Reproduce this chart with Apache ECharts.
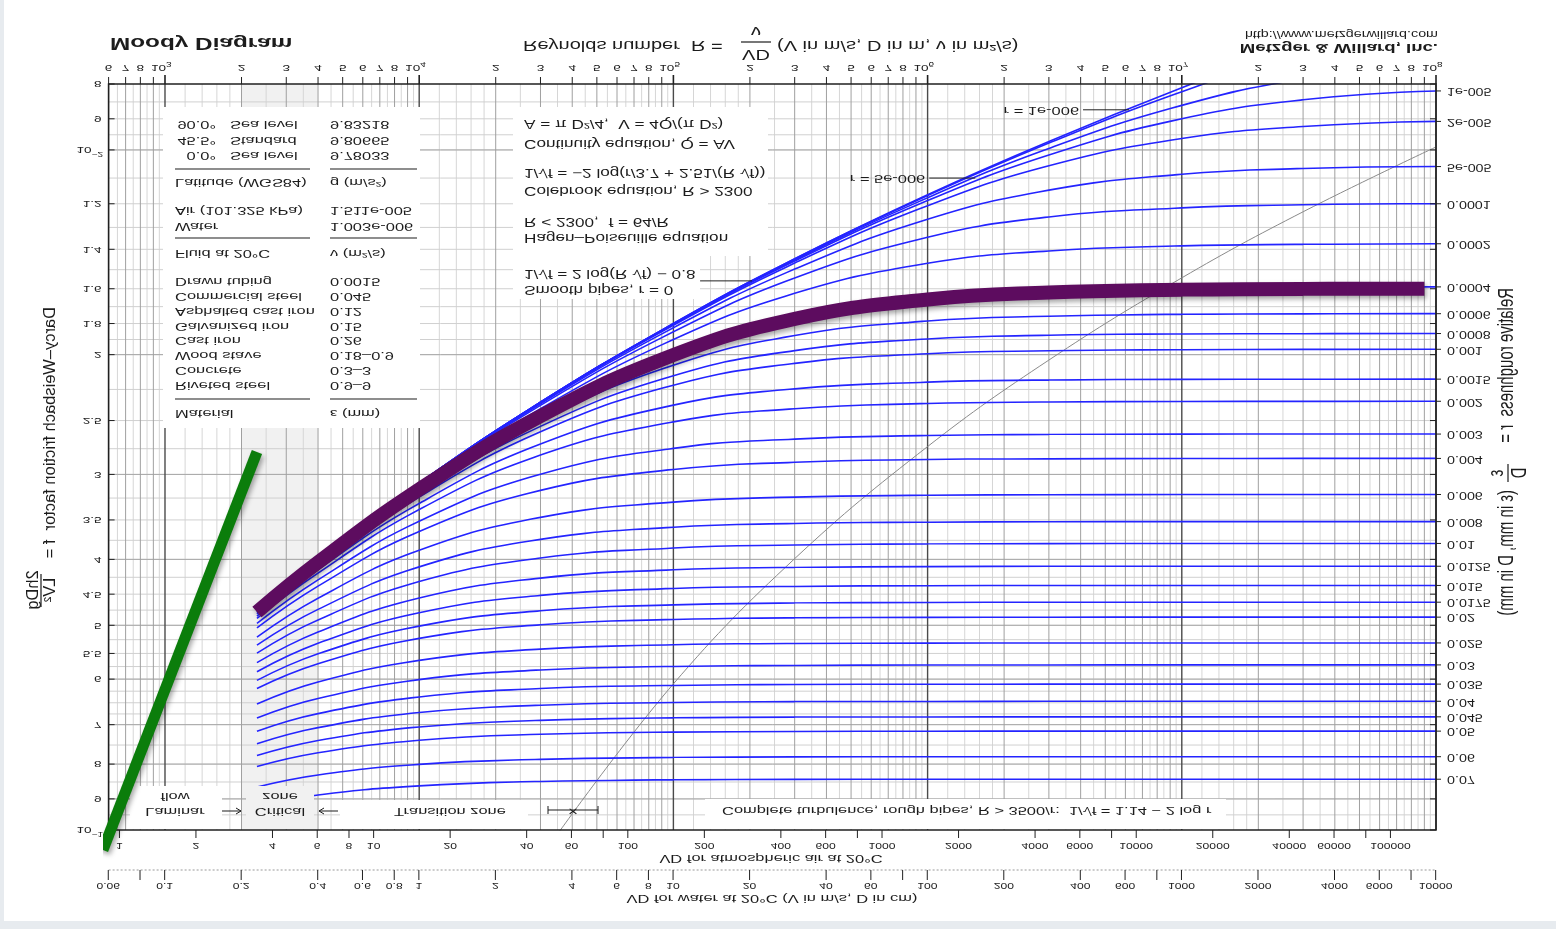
<!DOCTYPE html>
<html>
<head>
<meta charset="utf-8">
<title>Moody Diagram</title>
<script src="https://cdn.jsdelivr.net/npm/echarts@6/dist/echarts.min.js"></script>
<style>
  html, body { margin: 0; padding: 0; width: 1556px; height: 929px; overflow: hidden; background: #e7ebef; }
  #paper { position: absolute; left: 4px; top: 0; width: 1552px; height: 921px; background: #ffffff; }
  /* the whole drawing is mirrored top-to-bottom */
  #chart { position: absolute; left: 0; top: 0; width: 1556px; height: 929px; transform: scaleY(-1); }
</style>
</head>
<body>
<div id="paper"></div>
<div id="chart"></div>
<script>
// ---------------------------------------------------------------------------
// Data
// ---------------------------------------------------------------------------
// Reynolds numbers at which the friction factor of every curve is listed
const reynolds = [2300, 4000, 1e4, 3e4, 1e5, 3e5, 1e6, 3e6, 1e7, 3e7, 1e8];

// Darcy friction factor f for each relative roughness r
const fSmooth = [0.0473, 0.0399, 0.0309, 0.0235, 0.0180, 0.01446, 0.01164, 0.00972, 0.0081, 0.00695, 0.00594];
const fR1e6   = [0.0473, 0.0399, 0.0309, 0.0235, 0.0180, 0.01447, 0.01167, 0.00977, 0.00821, 0.00718, 0.0064];
const fR5e6   = [0.0473, 0.0399, 0.0309, 0.0235, 0.01802, 0.01452, 0.01176, 0.00995, 0.0086, 0.00786, 0.00747];
const fR1e5   = [0.0473, 0.0399, 0.0309, 0.0235, 0.01805, 0.01457, 0.01187, 0.01017, 0.0090, 0.00844, 0.00819];
const fR2e5   = [0.0473, 0.0399, 0.0309, 0.02354, 0.01811, 0.01467, 0.01208, 0.01055, 0.00962, 0.00924, 0.00908];
const fR5e5   = [0.0473, 0.0400, 0.0310, 0.02363, 0.01826, 0.01497, 0.01265, 0.01146, 0.01086, 0.01065, 0.01058];
const fR1e4   = [0.0474, 0.0400, 0.03107, 0.02375, 0.01851, 0.01543, 0.01344, 0.01255, 0.01217, 0.01204, 0.0120];
const fR2e4   = [0.04747, 0.04013, 0.03117, 0.02402, 0.0190, 0.01625, 0.01468, 0.01408, 0.01384, 0.01377, 0.01374];
const fR4e4   = [0.04759, 0.04029, 0.03147, 0.02453, 0.01992, 0.01762, 0.01649, 0.0161, 0.01596, 0.01591, 0.0159];
const fR6e4   = [0.0478, 0.04049, 0.03178, 0.02501, 0.02073, 0.01875, 0.01785, 0.01756, 0.01745, 0.01742, 0.01741];
const fR8e4   = [0.04792, 0.0407, 0.03208, 0.0255, 0.02148, 0.01973, 0.01897, 0.01873, 0.01865, 0.01863, 0.01862];
const fR001   = [0.0481, 0.0409, 0.03238, 0.02597, 0.02218, 0.0206, 0.01994, 0.01974, 0.01967, 0.01965, 0.01964];
const fR0015  = [0.04847, 0.04141, 0.0331, 0.02707, 0.02373, 0.02246, 0.02195, 0.0218, 0.02175, 0.02174, 0.02173];
const fR002   = [0.04886, 0.0419, 0.03379, 0.0281, 0.02511, 0.02402, 0.0236, 0.02348, 0.02344, 0.02343, 0.02342];
const fR003   = [0.04967, 0.04287, 0.03515, 0.02998, 0.02747, 0.02662, 0.0263, 0.02621, 0.02618, 0.02617, 0.02617];
const fR004   = [0.05043, 0.04379, 0.0364, 0.03167, 0.0295, 0.02879, 0.02853, 0.02846, 0.02843, 0.02842, 0.02842];
const fR006   = [0.05203, 0.04562, 0.03878, 0.0347, 0.03295, 0.0324, 0.0322, 0.03214, 0.03212, 0.03211, 0.03211];
const fR008   = [0.05348, 0.04738, 0.04103, 0.03738, 0.03588, 0.03543, 0.03527, 0.03522, 0.0352, 0.0352, 0.0352];
const fR01    = [0.05495, 0.0491, 0.04312, 0.03982, 0.0385, 0.0381, 0.03797, 0.03792, 0.03791, 0.0379, 0.0379];
const fR0125  = [0.05675, 0.05116, 0.0456, 0.04262, 0.04144, 0.04111, 0.04099, 0.04095, 0.04094, 0.04094, 0.04094];
const fR015   = [0.05851, 0.05314, 0.04792, 0.04519, 0.04415, 0.04384, 0.04373, 0.0437, 0.04369, 0.04369, 0.04369];
const fR0175  = [0.06025, 0.05507, 0.05014, 0.04761, 0.04667, 0.04638, 0.04628, 0.04625, 0.04624, 0.04624, 0.04624];
const fR02    = [0.06194, 0.05696, 0.05227, 0.04991, 0.04903, 0.04877, 0.04868, 0.04865, 0.04864, 0.04864, 0.04864];
const fR025   = [0.06527, 0.06058, 0.05631, 0.0542, 0.05341, 0.05319, 0.05312, 0.05309, 0.05308, 0.05308, 0.05308];
const fR03    = [0.06846, 0.06406, 0.0601, 0.05818, 0.05748, 0.05729, 0.0572, 0.05719, 0.05718, 0.05718, 0.05718];
const fR035   = [0.07161, 0.06743, 0.06374, 0.06194, 0.0613, 0.06111, 0.06105, 0.06103, 0.06102, 0.06102, 0.06102];
const fR04    = [0.07469, 0.0707, 0.06719, 0.06554, 0.06494, 0.06476, 0.06471, 0.06468, 0.06467, 0.06467, 0.06467];
const fR045   = [0.07771, 0.07388, 0.07055, 0.069, 0.06842, 0.06825, 0.0682, 0.06818, 0.06817, 0.06817, 0.06817];
const fR05    = [0.08066, 0.07699, 0.0738, 0.0723, 0.0718, 0.07164, 0.07157, 0.07156, 0.07155, 0.07155, 0.07155];
const fR06    = [0.08645, 0.083, 0.08007, 0.07872, 0.07824, 0.07808, 0.07803, 0.07802, 0.07802, 0.07802, 0.07802];
const fR07    = [0.0921, 0.08884, 0.08611, 0.08485, 0.0844, 0.08426, 0.08421, 0.0842, 0.0842, 0.0842, 0.0842];

const curveRows = [fSmooth, fR1e6, fR5e6, fR1e5, fR2e5, fR5e5, fR1e4, fR2e4, fR4e4, fR6e4, fR8e4,
  fR001, fR0015, fR002, fR003, fR004, fR006, fR008, fR01, fR0125, fR015, fR0175, fR02, fR025,
  fR03, fR035, fR04, fR045, fR05, fR06, fR07];
// relative roughness printed at the right end of each curve
const curveLabels = ['', '', '', '1e-005', '2e-005', '5e-005', '0.0001', '0.0002', '0.0004', '0.0006',
  '0.0008', '0.001', '0.0015', '0.002', '0.003', '0.004', '0.006', '0.008', '0.01', '0.0125', '0.015',
  '0.0175', '0.02', '0.025', '0.03', '0.035', '0.04', '0.045', '0.05', '0.06', '0.07'];

// start of complete turbulence (R = 3500/r)
const boundaryRe = [3.5e4, 1e5, 3e5, 1e6, 3e6, 1e7, 3e7, 1e8];
const boundaryF  = [0.1014, 0.06097, 0.0399, 0.0273, 0.02037, 0.01542, 0.01233, 0.0099];

// highlighted laminar line and highlighted r = 0.0004 curve
const laminarRe = [570, 2300];
const laminarF  = [0.107, 0.0278];
const markedRe  = [2300, 4000, 1e4, 3e4, 1e5, 3e5, 1e6, 3e6, 1e7, 3e7, 9e7];
const markedF   = [0.0478, 0.0404, 0.03157, 0.02463, 0.02003, 0.01772, 0.01659, 0.0162, 0.01606, 0.01601, 0.016];

// critical zone
const criticalRe = [2000, 4000];

// leaders pointing at individual curves
const leaderRe   = [6.2e6, 1.54e6];
const leaderF    = [0.00873, 0.0110];
const leaderText = ['r = 1e-006', 'r = 5e-006'];
const smoothLeader = [2.04e5, 0.01558];

// axes ticks
const reDecades = [2, 3, 4, 5, 6, 7];
const reMantissas = [1, 2, 3, 4, 5, 6, 7, 8, 9];
const reMinorMantissas = [1.2, 1.4, 1.6, 1.8, 2.5, 3.5, 4.5, 5.5, 6.5, 7.5, 8.5, 9.5];
const reLabelled = [2, 3, 4, 5, 6, 7, 8];

const fTicks = [0.008, 0.009, 0.01, 0.012, 0.014, 0.016, 0.018, 0.02, 0.025, 0.03, 0.035, 0.04, 0.045,
  0.05, 0.055, 0.06, 0.07, 0.08, 0.09, 0.1];
const fTickLabels = ['8', '9', '10^−2', '1.2', '1.4', '1.6', '1.8', '2', '2.5', '3', '3.5', '4', '4.5',
  '5', '5.5', '6', '7', '8', '9', '10^−1'];
const fGridLines = [0.0085, 0.009, 0.0095, 0.01, 0.011, 0.012, 0.013, 0.014, 0.015, 0.016, 0.017, 0.018,
  0.019, 0.02, 0.0225, 0.025, 0.0275, 0.03, 0.0325, 0.035, 0.0375, 0.04, 0.0425, 0.045, 0.0475, 0.05,
  0.0525, 0.055, 0.0575, 0.06, 0.0625, 0.065, 0.0675, 0.07, 0.075, 0.08, 0.085, 0.09, 0.095];
const fDarkLines = [0.01, 0.02, 0.03, 0.04, 0.05, 0.06, 0.07, 0.08, 0.09];

// VD scales (V in m/s, D in cm) and kinematic viscosities (m^2/s)
const nuAir = 1.511e-5;
const nuWater = 1.003e-6;
const airVD = [1, 2, 4, 6, 8, 10, 20, 40, 60, 80, 100, 200, 400, 600, 800, 1000, 2000, 4000, 6000, 8000,
  10000, 20000, 40000, 60000, 80000, 100000];
const airVDLabels = ['1', '2', '4', '6', '8', '10', '20', '40', '60', '', '100', '200', '400', '600', '',
  '1000', '2000', '4000', '6000', '', '10000', '20000', '40000', '60000', '', '100000'];
const waterVD = [0.06, 0.08, 0.1, 0.2, 0.4, 0.6, 0.8, 1, 2, 4, 6, 8, 10, 20, 40, 60, 80, 100, 200, 400, 600,
  800, 1000, 2000, 4000, 6000, 8000, 10000];
const waterVDLabels = ['0.06', '', '0.1', '0.2', '0.4', '0.6', '0.8', '1', '2', '4', '6', '8', '10', '20',
  '40', '60', '', '100', '200', '400', '600', '', '1000', '2000', '4000', '6000', '', '10000'];

// ---------------------------------------------------------------------------
// Drawing helpers
// ---------------------------------------------------------------------------
const H = 929;          // canvas height; the canvas is mirrored, so y measured from the visible top is H - y
const SX = 1.43;        // horizontal stretch of the lettering
const FONT = '"Liberation Sans", Arial, Helvetica, sans-serif';
const font = (px, weight) => (weight ? weight + ' ' : '') + px + 'px ' + FONT;
const INK = '#1c1c1c';

function textEl(x, y, s, px, align, extra) {
  return Object.assign({
    type: 'text', x: x, y: y, scaleX: SX, silent: true,
    style: { text: s, font: font(px), fill: INK, align: align, textAlign: align,
      verticalAlign: 'middle', textVerticalAlign: 'middle' }
  }, extra || {});
}

// graphic annotations, positions measured from the visible top-left corner
const deco = [];
function box(x1, y1, x2, y2, fill, z) {
  deco.push({ type: 'rect', silent: true, z: z || 6,
    shape: { x: x1, y: H - y2, width: x2 - x1, height: y2 - y1 }, style: { fill: fill || '#fff' } });
}
function note(x, y, s, o) {
  o = o || {};
  const rot = o.rotation || 0;
  deco.push({ type: 'text', silent: true, z: o.z || 8, x: x, y: H - y, rotation: rot,
    scaleX: rot ? 1 : (o.sx || SX), scaleY: rot ? (o.sy || 1) : 1,
    style: { text: s, font: o.font || font(11.5), fill: o.color || INK,
      align: o.align || 'left', textAlign: o.align || 'left',
      verticalAlign: 'middle', textVerticalAlign: 'middle' } });
}
function rule(x1, y1, x2, y2, o) {
  o = o || {};
  deco.push({ type: 'line', silent: true, z: o.z || 8,
    shape: { x1: x1, y1: H - y1, x2: x2, y2: H - y2 },
    style: { stroke: o.color || INK, lineWidth: o.width || 1 } });
}
function arrow(xFrom, xTo, y) {
  rule(xFrom, y, xTo, y);
  const d = xTo > xFrom ? -5 : 5;
  deco.push({ type: 'polyline', silent: true, z: 8,
    shape: { points: [[xTo + d, H - y - 3], [xTo, H - y], [xTo + d, H - y + 3]] },
    style: { stroke: INK, lineWidth: 1, fill: null } });
}

// ---- titles ----
note(110, 43, 'Moody Diagram', { font: font(17, 'bold') });
note(523, 45, 'Reynolds number  R =', { font: font(14) });
note(756, 31, 'ν', { font: font(14), align: 'center' });
rule(741, 42, 771, 42, { width: 1.2 });
note(756, 54, 'VD', { font: font(14), align: 'center' });
note(777, 45, '(V in m/s, D in m, ν in m²/s)', { font: font(14) });
note(1438, 48, 'Metzger & Willard, Inc.', { font: font(13, 'bold'), align: 'right' });
note(1438, 34, 'http://www.metzgerwillard.com', { font: font(10), align: 'right' });

// ---- material / fluid / gravity table ----
box(163, 107, 420, 428);
[['90.0°', 'Sea level', '9.83218', 124], ['45.5°', 'Standard', '9.80665', 140], ['0.0°', 'Sea level', '9.78033', 155]]
  .forEach(r => { note(216, r[3], r[0], { align: 'right' }); note(230, r[3], r[1]); note(330, r[3], r[2]); });
rule(175, 169, 310, 169); rule(330, 169, 417, 169);
note(175, 182, 'Latitude (WGS84)'); note(330, 182, 'g (m/s²)');
note(175, 210, 'Air (101.325 kPa)'); note(330, 210, '1.511e-005');
note(175, 226, 'Water'); note(330, 226, '1.003e-006');
rule(175, 238, 310, 238); rule(330, 238, 417, 238);
note(175, 253, 'Fluid at 20°C'); note(330, 253, 'ν (m²/s)');
[['Drawn tubing', '0.0015'], ['Commercial steel', '0.045'], ['Asphalted cast iron', '0.12'],
 ['Galvanized iron', '0.15'], ['Cast iron', '0.26'], ['Wood stave', '0.18–0.9'], ['Concrete', '0.3–3'],
 ['Riveted steel', '0.9–9']].forEach((r, i) => {
  const y = 281 + i * 14.9; note(175, y, r[0]); note(330, y, r[1]);
});
rule(175, 399, 310, 399); rule(330, 399, 417, 399);
note(175, 413, 'Material'); note(330, 413, 'ε (mm)');

// ---- equations ----
box(513, 107, 768, 256);
box(513, 256, 700, 299);
note(524, 123, 'A = π D²/4,  V = 4Q/(π D²)', { font: font(12) });
note(524, 143, 'Continuity equation, Q = AV', { font: font(12) });
note(524, 172, '1/√f = −2 log(r/3.7 + 2.51/(R √f))', { font: font(12) });
note(524, 190, 'Colebrook equation, R > 2300', { font: font(12) });
note(524, 221, 'R < 2300,  f = 64/R', { font: font(12) });
note(524, 237, 'Hagen–Poiseuille equation', { font: font(12) });
note(524, 273, '1/√f = 2 log(R √f) − 0.8', { font: font(12) });
note(524, 289, 'Smooth pipes, r = 0', { font: font(12) });

// ---- flow regime labels ----
box(130, 786, 222, 829);
box(246, 786, 314, 829, '#f1f1f1');
box(340, 800, 528, 829);
box(705, 799, 1226, 829);
note(175, 796, 'flow', { align: 'center' });
note(175, 811, 'Laminar', { align: 'center' });
arrow(222, 241, 811);
note(280, 796, 'zone', { align: 'center' });
note(280, 811, 'Critical', { align: 'center' });
arrow(338, 319, 811);
note(450, 811, 'Transition zone', { align: 'center' });
rule(548, 810, 598, 810);
rule(548, 806, 548, 814);
rule(598, 806, 598, 814);
note(573, 810, '×', { align: 'center', font: font(12) });
note(722, 810, 'Complete turbulence, rough pipes, R > 3500/r:  1/√f = 1.14 − 2 log r');

// ---- axis titles ----
note(771, 858, 'VD for atmospheric air at 20°C', { align: 'center' });
note(772, 898, 'VD for water at 20°C (V in m/s, D in cm)', { align: 'center' });
note(50, 307, 'Darcy–Weisbach friction factor  f =', { rotation: Math.PI / 2, font: font(16.5) });
note(33, 590, '2hDg', { rotation: Math.PI / 2, font: font(16.5), align: 'center' });
rule(41, 574, 41, 607, { width: 1.2 });
note(50, 590, 'LV²', { rotation: Math.PI / 2, font: font(16.5), align: 'center' });
note(1507, 288, 'Relative roughness  r =', { rotation: Math.PI / 2, font: font(15), sy: SX });
note(1497, 473, 'ε', { rotation: Math.PI / 2, font: font(15), sy: SX, align: 'center' });
rule(1508, 464, 1508, 482, { width: 1.2 });
note(1520, 473, 'D', { rotation: Math.PI / 2, font: font(15), sy: SX, align: 'center' });
note(1507, 490, '(ε in mm, D in mm)', { rotation: Math.PI / 2, font: font(15), sy: SX });

// ---------------------------------------------------------------------------
// Scale-driven drawing (grid lines, ticks and labels)
// ---------------------------------------------------------------------------
const reMajor = [], reMinor = [];
reDecades.forEach(e => {
  reMantissas.forEach(m => { const v = m * Math.pow(10, e); if (v >= 600 && v <= 1e8) reMajor.push([v, m]); });
  reMinorMantissas.forEach(m => { const v = m * Math.pow(10, e); if (v >= 600 && v <= 1e8) reMinor.push(v); });
});
reMajor.push([1e8, 1]);

function lineEl(x1, y1, x2, y2, stroke, w, dash) {
  return { type: 'line', silent: true, shape: { x1: x1, y1: y1, x2: x2, y2: y2 },
    style: { stroke: stroke, lineWidth: w, lineDash: dash || null } };
}

function renderBand(params, api) {
  const a = api.coord([criticalRe[0], 0.1]), b = api.coord([criticalRe[1], 0.008]);
  return { type: 'rect', silent: true, shape: { x: a[0], y: a[1], width: b[0] - a[0], height: b[1] - a[1] },
    style: { fill: '#f1f1f1' } };
}

function renderGrid(params, api) {
  const kids = [];
  const v = (x, c, w) => { const a = api.coord([x, 0.008]), b = api.coord([x, 0.1]); kids.push(lineEl(a[0], a[1], b[0], b[1], c, w)); };
  const h = (y, c, w) => { const a = api.coord([600, y]), b = api.coord([1e8, y]); kids.push(lineEl(a[0], a[1], b[0], b[1], c, w)); };
  reMinor.forEach(x => v(x, '#d6d6d6', 1));
  fGridLines.forEach(y => h(y, '#d0d0d0', 1));
  fDarkLines.forEach(y => h(y, '#a8a8a8', 1));
  reMajor.forEach(p => v(p[0], p[1] === 1 ? '#4a4a4a' : '#a0a0a0', p[1] === 1 ? 1.4 : 1));
  return { type: 'group', children: kids };
}

function renderAxes(params, api) {
  const kids = [];
  const tl = api.coord([600, 0.1]), br = api.coord([1e8, 0.008]);
  const x0 = tl[0], x1 = br[0], yT = tl[1], yB = br[1];
  // frame
  kids.push({ type: 'rect', silent: true, shape: { x: x0, y: yT, width: x1 - x0, height: yB - yT },
    style: { fill: null, stroke: '#202020', lineWidth: 1.6 } });
  // Reynolds number scale
  reMajor.forEach(p => {
    const x = api.coord([p[0], 0.008])[0];
    kids.push(lineEl(x, yB, x, yB + (p[1] === 1 ? 9 : 7), '#202020', p[1] === 1 ? 1.6 : 1));
    if (p[1] === 1) {
      const e = Math.round(Math.log10(p[0]));
      kids.push(textEl(x + 1, yB + 16, '10', 9.5, 'right'));
      kids.push(textEl(x + 1, yB + 20, String(e), 7, 'left'));
    } else if (reLabelled.indexOf(p[1]) >= 0) {
      kids.push(textEl(x, yB + 16, String(p[1]), 9.5, 'center'));
    }
  });
  // friction factor scale (left) and ticks on the right
  fTicks.forEach((f, i) => {
    const y = api.coord([600, f])[1];
    kids.push(lineEl(x0, y, x0 + 6, y, '#202020', 1));
    kids.push(lineEl(x1 - 6, y, x1, y, '#202020', 1));
    const lab = fTickLabels[i];
    if (lab.indexOf('^') >= 0) {
      const parts = lab.split('^');
      kids.push(textEl(x0 - 17, y, parts[0], 9.5, 'right'));
      kids.push(textEl(x0 - 17, y - 4, parts[1], 7, 'left'));
    } else {
      kids.push(textEl(x0 - 7, y, lab, 9.5, 'right'));
    }
  });
  // relative roughness at the end of each curve
  curveRows.forEach((row, i) => {
    if (!curveLabels[i]) return;
    const y = api.coord([1e8, row[row.length - 1]])[1];
    kids.push(lineEl(x1, y, x1 + 5, y, '#202020', 1));
    kids.push(textEl(x1 + 11, y, curveLabels[i], 10, 'left'));
  });
  // VD for air along the far edge of the plot
  airVD.forEach((vd, i) => {
    const x = api.coord([vd * 0.01 / nuAir, 0.1])[0];
    kids.push(lineEl(x, yT, x, yT - 8, '#202020', 1));
    if (airVDLabels[i]) kids.push(textEl(x, yT - 15, airVDLabels[i], 8.5, 'center'));
  });
  // VD for water on its own dotted line
  const yW = yT - 40;
  kids.push(lineEl(x0, yW, x1, yW, '#9a9a9a', 1, [2, 2]));
  waterVD.forEach((vd, i) => {
    const x = api.coord([vd * 0.01 / nuWater, 0.1])[0];
    kids.push(lineEl(x, yW, x, yW - 10, '#202020', 1));
    if (waterVDLabels[i]) kids.push(textEl(x, yW - 15, waterVDLabels[i], 8.5, 'center'));
  });
  // leaders to single curves
  leaderRe.forEach((re, i) => {
    const p = api.coord([re, leaderF[i]]);
    kids.push(lineEl(p[0] - 46, p[1], p[0], p[1], '#202020', 1));
    kids.push(textEl(p[0] - 50, p[1], leaderText[i], 11.5, 'right'));
  });
  const s = api.coord(smoothLeader);
  kids.push(lineEl(s[0] - 52, s[1], s[0], s[1], '#202020', 1));
  return { type: 'group', children: kids };
}

// ---------------------------------------------------------------------------
// Series
// ---------------------------------------------------------------------------
const series = [
  { type: 'custom', name: 'critical zone', z: 0, silent: true, clip: true, data: [[2000, 0.05]], renderItem: renderBand },
  { type: 'custom', name: 'grid', z: 1, silent: true, clip: true, data: [[600, 0.05]], renderItem: renderGrid },
  { type: 'line', name: 'complete turbulence', z: 4, silent: true, showSymbol: false, smooth: 0.4,
    data: boundaryRe.map((re, i) => [re, boundaryF[i]]), lineStyle: { color: '#8a8a8a', width: 1 } }
];
curveRows.forEach((row, i) => {
  series.push({ type: 'line', name: curveLabels[i] || ('r' + i), z: 5, silent: true, showSymbol: false,
    smooth: 0.45,
    data: reynolds.map((re, j) => [re, row[j]]),
    lineStyle: { color: '#2424ff', width: 1.6 } });
});
series.push({ type: 'custom', name: 'axes', z: 9, silent: true, clip: false, data: [[600, 0.05]], renderItem: renderAxes });
series.push({ type: 'line', name: 'laminar', z: 12, silent: true, showSymbol: false, clip: false,
  data: laminarRe.map((re, i) => [re, laminarF[i]]),
  lineStyle: { color: '#0b7d0b', width: 11, cap: 'butt',
    shadowColor: 'rgba(0,0,0,0.35)', shadowBlur: 5, shadowOffsetX: 2, shadowOffsetY: -3 } });
series.push({ type: 'line', name: 'r = 0.0004', z: 12, silent: true, showSymbol: false, smooth: 0.45,
  clip: false,
  data: markedRe.map((re, i) => [re, markedF[i]]),
  lineStyle: { color: '#5d0c5f', width: 14, cap: 'butt',
    shadowColor: 'rgba(0,0,0,0.35)', shadowBlur: 5, shadowOffsetX: 2, shadowOffsetY: -3 } });

const chart = echarts.init(document.getElementById('chart'), null, { renderer: 'canvas' });
chart.setOption({
  animation: false,
  backgroundColor: 'transparent',
  grid: { left: 108.6, right: 120, top: 99, bottom: 84 },
  xAxis: { type: 'log', min: 600, max: 1e8, show: false },
  yAxis: { type: 'log', min: 0.008, max: 0.1, show: false },
  graphic: { elements: deco },
  series: series
});
</script>
</body>
</html>
